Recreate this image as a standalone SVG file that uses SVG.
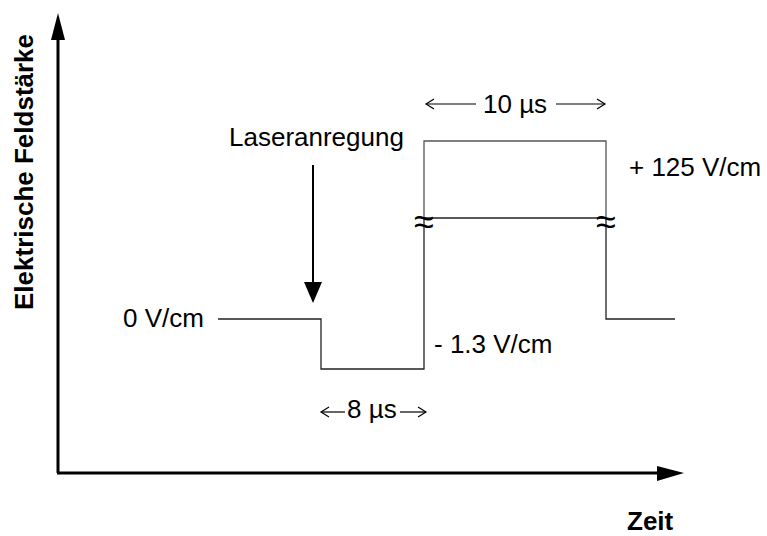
<svg xmlns="http://www.w3.org/2000/svg" width="767" height="536" viewBox="0 0 767 536">
<style>
text{font-family:"Liberation Sans",Arial,sans-serif;font-size:26px;fill:#000}
.b{font-weight:bold}
.w{fill:none;stroke:#222;stroke-width:1.3}
.box{fill:none;stroke:#555;stroke-width:1.3}
.ax{fill:none;stroke:#000;stroke-width:3}
.dim{fill:none;stroke:#000;stroke-width:1.2}
.brk{font-size:36px;text-anchor:middle}
</style>
<rect width="767" height="536" fill="#fff"/>
<g id="axes">
<line class="ax" x1="58" y1="473" x2="58" y2="38"/>
<polygon points="58,13 51,40 65,40" fill="#000"/>
<line class="ax" x1="57" y1="473" x2="660" y2="473"/>
<polygon points="684,473 657,466 657,481" fill="#000"/>
</g>
<g id="y-label"><text class="b" transform="translate(33,310) rotate(-90)">Elektrische Feldstärke</text></g>
<g id="x-label"><text class="b" x="627" y="530">Zeit</text></g>
<g id="waveform">
<polyline class="w" points="218,319 321,319 321,369 424,369 424,218"/>
<polyline class="box" points="424,218 424,141 606,141 606,218"/>
<polyline class="w" points="606,218 606,319 675,319"/>
<line class="w" x1="424" y1="218" x2="606" y2="218"/>
<text class="brk" x="424" y="234">≈</text>
<text class="brk" x="606" y="234">≈</text>
</g>
<g id="laser">
<text x="229" y="146">Laseranregung</text>
<line x1="313" y1="165" x2="313" y2="284" stroke="#000" stroke-width="2"/>
<polygon points="313,303 304,282 322,282" fill="#000"/>
</g>
<g id="labels">
<text x="123" y="327">0 V/cm</text>
<text x="434" y="353">- 1.3 V/cm</text>
<text x="629" y="176">+ 125 V/cm</text>
</g>
<g id="dim10">
<text x="483" y="113">10 µs</text>
<line class="dim" x1="426" y1="104" x2="476" y2="104"/>
<polyline class="dim" points="434,99 426,104 434,109"/>
<line class="dim" x1="556" y1="104" x2="605" y2="104"/>
<polyline class="dim" points="597,99 605,104 597,109"/>
</g>
<g id="dim8">
<text x="347" y="418">8 µs</text>
<line class="dim" x1="321" y1="412" x2="345" y2="412"/>
<polyline class="dim" points="329,407 321,412 329,417"/>
<line class="dim" x1="400" y1="412" x2="426" y2="412"/>
<polyline class="dim" points="418,407 426,412 418,417"/>
</g>
</svg>
